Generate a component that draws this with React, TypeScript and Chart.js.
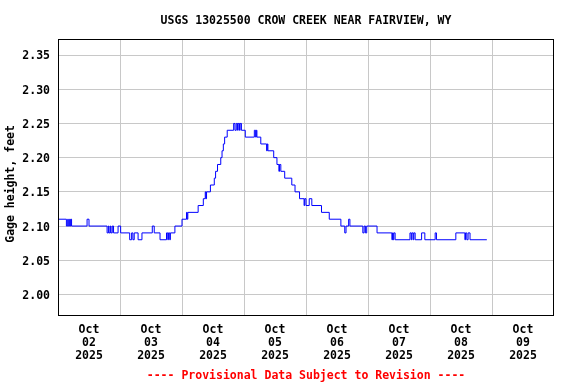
import React, { useEffect, useRef } from 'react';
import { Chart, registerables } from 'chart.js';

Chart.register(...registerables);

const TITLE = 'USGS 13025500 CROW CREEK NEAR FAIRVIEW, WY';
const FOOTER = '---- Provisional Data Subject to Revision ----';
const Y_TITLE = 'Gage height, feet';
const monthLabel = 'Oct';
const yearLabel = '2025';
const dayLabels = ['02', '03', '04', '05', '06', '07', '08', '09'];
const yTicks = [2.0, 2.05, 2.1, 2.15, 2.2, 2.25, 2.3, 2.35];
const xTickHours = [0, 12, 24, 36, 48, 60, 72, 84, 96, 108, 120, 132, 144, 156, 168, 180, 192];

// hours since Oct 02 2025 00:00, and gage height (ft) starting at that time
const hoursSinceOct02 = [
  0, 3.25, 3.75, 4.0, 4.5, 4.75, 5.0, 5.25, 11.25, 12.0,
  19.0, 19.5, 19.75, 20.25, 20.5, 21.0, 21.5, 23.25, 24.25, 27.75,
  28.5, 29.0, 29.5, 31.0, 32.5, 36.5, 37.25, 39.5, 42.0, 42.5,
  42.75, 43.25, 43.5, 45.25, 48.0, 49.75, 50.0, 50.25, 54.25, 56.25,
  57.0, 57.25, 57.5, 59.0, 60.5, 61.0, 61.75, 63.0, 63.5, 64.0,
  64.5, 65.5, 68.0, 68.5, 69.0, 69.5, 69.75, 70.25, 70.5, 71.0,
  72.5, 76.0, 76.5, 76.75, 77.0, 78.5, 80.75, 81.0, 81.25, 83.5,
  84.75, 85.5, 85.75, 86.25, 87.75, 90.5, 91.75, 93.5, 95.25, 95.5,
  96.0, 97.25, 98.25, 102.0, 105.0, 109.5, 111.0, 111.5, 112.5, 113.0,
  118.0, 118.5, 119.0, 119.5, 123.5, 129.25, 129.5, 129.75, 130.0, 130.5,
  136.25, 136.75, 137.0, 137.5, 137.75, 138.25, 140.75, 142.0, 146.0, 146.5,
  154.0, 157.5, 157.75, 158.25, 158.75, 159.5, 166.0,
];
const gageHeightFt = [
  2.11, 2.10, 2.11, 2.10, 2.11, 2.10, 2.11, 2.10, 2.11, 2.10,
  2.09, 2.10, 2.09, 2.10, 2.09, 2.10, 2.09, 2.10, 2.09, 2.08,
  2.09, 2.08, 2.09, 2.08, 2.09, 2.10, 2.09, 2.08, 2.09, 2.08,
  2.09, 2.08, 2.09, 2.10, 2.11, 2.12, 2.11, 2.12, 2.13, 2.14,
  2.15, 2.14, 2.15, 2.16, 2.17, 2.18, 2.19, 2.20, 2.21, 2.22,
  2.23, 2.24, 2.25, 2.24, 2.25, 2.24, 2.25, 2.24, 2.25, 2.24,
  2.23, 2.24, 2.23, 2.24, 2.23, 2.22, 2.21, 2.22, 2.21, 2.20,
  2.19, 2.18, 2.19, 2.18, 2.17, 2.16, 2.15, 2.14, 2.13, 2.14,
  2.13, 2.14, 2.13, 2.12, 2.11, 2.10, 2.09, 2.10, 2.11, 2.10,
  2.09, 2.10, 2.09, 2.10, 2.09, 2.08, 2.09, 2.08, 2.09, 2.08,
  2.09, 2.08, 2.09, 2.08, 2.09, 2.08, 2.09, 2.08, 2.09, 2.08,
  2.09, 2.08, 2.09, 2.08, 2.09, 2.08, 2.08,
];

const FONT_FAMILY = '"DejaVu Sans Mono", "Liberation Mono", monospace';
const GRID = '#c8c8c8';

const framePlugin = {
  id: 'frame',
  afterDraw(chart: any) {
    const { ctx, chartArea } = chart;
    ctx.save();
    ctx.strokeStyle = '#000';
    ctx.lineWidth = 1;
    ctx.strokeRect(
      Math.round(chartArea.left) + 0.5,
      Math.round(chartArea.top) + 0.5,
      Math.round(chartArea.right - chartArea.left) - 1,
      Math.round(chartArea.bottom - chartArea.top)
    );
    ctx.restore();
  },
};

export default function App() {
  const canvasRef = useRef<HTMLCanvasElement | null>(null);

  useEffect(() => {
    const canvas = canvasRef.current;
    if (!canvas) return;
    const font = { family: FONT_FAMILY, size: 11.5, weight: 'bold' as const, lineHeight: 1.2 };
    const points = hoursSinceOct02.map((h, i) => ({ x: h, y: gageHeightFt[i] }));
    const chart = new Chart(canvas, {
      type: 'line',
      data: {
        datasets: [
          {
            data: points,
            borderColor: '#0000ff',
            borderWidth: 1,
            pointRadius: 0,
            stepped: true,
            fill: false,
          },
        ],
      },
      options: {
        responsive: false,
        animation: false,
        devicePixelRatio: 1,
        layout: { padding: { left: 0, right: 22, top: 0, bottom: 0 } },
        plugins: {
          legend: { display: false },
          tooltip: { enabled: false },
          title: {
            display: true,
            text: TITLE,
            color: '#000',
            fullSize: false,
            font,
            padding: { top: 14, bottom: 11.2 },
          },
          subtitle: {
            display: true,
            position: 'bottom',
            text: FOOTER,
            color: '#ff0000',
            fullSize: false,
            font,
            padding: { top: 0, bottom: 1 },
          },
        },
        scales: {
          x: {
            type: 'linear',
            min: 0,
            max: 192,
            afterBuildTicks: (axis: any) => {
              axis.ticks = xTickHours.map((v) => ({ value: v }));
            },
            afterFit: (s: any) => {
              s.height = 54.2;
            },
            ticks: {
              autoSkip: false,
              maxRotation: 0,
              minRotation: 0,
              padding: 9,
              color: '#000',
              font: { ...font, lineHeight: 1.1 },
              callback: (v: any) => {
                const val = Number(v);
                if (val % 24 === 12) {
                  const i = (val - 12) / 24;
                  return [monthLabel, dayLabels[i], yearLabel];
                }
                return '';
              },
            },
            grid: {
              drawTicks: false,
              lineWidth: 1,
              color: (c: any) => {
                const val = c.tick ? c.tick.value : -1;
                return val % 24 === 0 && val > 0 && val < 192 ? GRID : 'rgba(0,0,0,0)';
              },
            },
            border: { display: false },
          },
          y: {
            min: 1.97,
            max: 2.3734,
            afterBuildTicks: (axis: any) => {
              axis.ticks = yTicks.map((v) => ({ value: v }));
            },
            afterFit: (s: any) => {
              s.width = 58;
            },
            ticks: {
              padding: 8,
              labelOffset: 1.5,
              color: '#000',
              font,
              callback: (v: any) => Number(v).toFixed(2),
            },
            grid: { drawTicks: false, color: GRID, lineWidth: 1 },
            border: { display: false },
            title: {
              display: true,
              text: Y_TITLE + '  ',
              color: '#000',
              font,
              padding: { top: 4, bottom: 0 },
            },
          },
        },
      },
      plugins: [framePlugin],
    } as any);
    return () => chart.destroy();
  }, []);

  return (
    <div style={{ position: 'absolute', left: 0, top: 0, width: 576, height: 384, background: '#fff' }}>
      <canvas ref={canvasRef} width={576} height={384} style={{ display: 'block', width: 576, height: 384 }} />
    </div>
  );
}
